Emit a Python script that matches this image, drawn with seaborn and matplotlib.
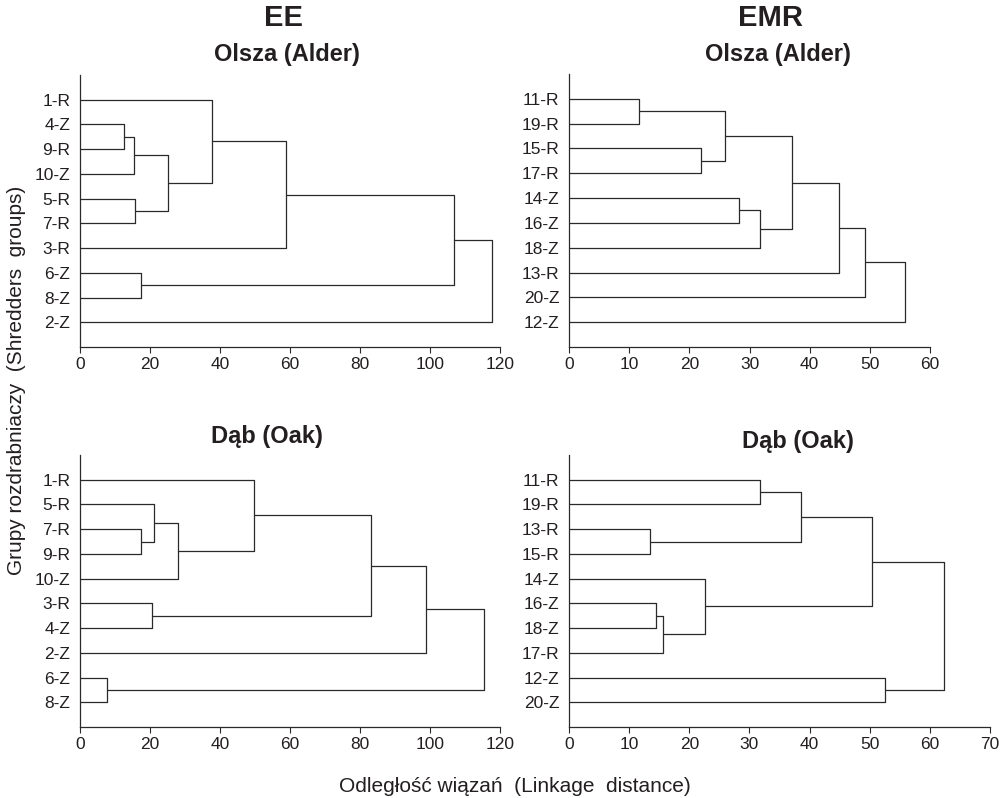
import matplotlib
matplotlib.use("Agg")
import matplotlib.pyplot as plt
from matplotlib import font_manager
import numpy as np
import pandas as pd
import seaborn as sns

# Leaf order and agglomeration steps (child a, child b, linkage distance).
# Indices below len(leaves) are leaves; index len(leaves)+k is the k-th merge.
ee_alder_leaves = ["1-R", "4-Z", "9-R", "10-Z", "5-R", "7-R", "3-R", "6-Z", "8-Z", "2-Z"]
ee_alder_merges = [
    (1, 2, 12.7), (10, 3, 15.5), (4, 5, 15.7), (11, 12, 25.2), (0, 13, 37.8),
    (14, 6, 58.8), (7, 8, 17.3), (15, 16, 106.8), (17, 9, 117.8),
]

emr_alder_leaves = ["11-R", "19-R", "15-R", "17-R", "14-Z", "16-Z", "18-Z", "13-R", "20-Z", "12-Z"]
emr_alder_merges = [
    (0, 1, 11.7), (2, 3, 21.9), (10, 11, 26.0), (4, 5, 28.3), (13, 6, 31.7),
    (12, 14, 37.1), (15, 7, 44.8), (16, 8, 49.2), (17, 9, 55.8),
]

ee_oak_leaves = ["1-R", "5-R", "7-R", "9-R", "10-Z", "3-R", "4-Z", "2-Z", "6-Z", "8-Z"]
ee_oak_merges = [
    (2, 3, 17.3), (1, 10, 21.2), (11, 4, 28.1), (0, 12, 49.6), (5, 6, 20.7),
    (13, 14, 83.1), (15, 7, 98.8), (8, 9, 7.8), (16, 17, 115.5),
]

emr_oak_leaves = ["11-R", "19-R", "13-R", "15-R", "14-Z", "16-Z", "18-Z", "17-R", "12-Z", "20-Z"]
emr_oak_merges = [
    (0, 1, 31.8), (2, 3, 13.5), (10, 11, 38.6), (5, 6, 14.5), (13, 7, 15.6),
    (4, 14, 22.6), (12, 15, 50.3), (8, 9, 52.6), (16, 17, 62.4),
]

ee_ticks = [0, 20, 40, 60, 80, 100, 120]
emr_alder_ticks = [0, 10, 20, 30, 40, 50, 60]
emr_oak_ticks = [0, 10, 20, 30, 40, 50, 60, 70]

column_titles = ["EE", "EMR"]
wood_titles = ["Olsza (Alder)", "Dąb (Oak)"]
y_title = "Grupy rozdrabniaczy  (Shredders  groups)"
x_title = "Odległość wiązań  (Linkage  distance)"


def link_segments(leaves, merges):
    """Bracket polylines for each merge, laid out like a classic dendrogram."""
    n = len(leaves)
    pos = {i: float(i) for i in range(n)}
    height = {i: 0.0 for i in range(n)}
    rows = []
    for k, (a, b, h) in enumerate(merges):
        pts = [(height[a], pos[a]), (h, pos[a]), (h, pos[b]), (height[b], pos[b])]
        for d, p in pts:
            rows.append({"distance": d, "position": p, "link": k})
        pos[n + k] = (pos[a] + pos[b]) / 2.0
        height[n + k] = h
    return pd.DataFrame(rows)


sns.set_theme(style="ticks")
plt.rcParams["font.family"] = ["Liberation Sans", "DejaVu Sans"]
ink = "#231f20"
line_col = "#2a2a2a"

# Headings: pick the regular-width bold face, never a narrow/condensed cut
bold_fp = None
for entry in font_manager.fontManager.ttflist:
    fname_low = entry.fname.lower()
    if (entry.name == "Liberation Sans" and entry.weight in (700, "bold")
            and entry.style == "normal" and "narrow" not in fname_low
            and "condensed" not in fname_low):
        bold_fp = font_manager.FontProperties(fname=entry.fname)
        break
if bold_fp is None:
    bold_fp = font_manager.FontProperties(family=["Liberation Sans", "DejaVu Sans"], weight="bold")

W, H = 1008, 798
fig = plt.figure(figsize=(W / 100, H / 100), dpi=100)


def add_axes_px(left, right, top, bottom):
    return fig.add_axes([left / W, 1 - bottom / H, (right - left) / W, (bottom - top) / H])


panels = [
    (ee_alder_leaves, ee_alder_merges, ee_ticks, (80, 500, 75, 347)),
    (emr_alder_leaves, emr_alder_merges, emr_alder_ticks, (569, 930, 74, 347)),
    (ee_oak_leaves, ee_oak_merges, ee_ticks, (80, 500, 455, 727)),
    (emr_oak_leaves, emr_oak_merges, emr_oak_ticks, (569, 990, 455, 727)),
]

for leaves, merges, ticks, box in panels:
    ax = add_axes_px(*box)
    df = link_segments(leaves, merges)
    sns.lineplot(data=df, x="distance", y="position", units="link", estimator=None,
                 sort=False, color=line_col, linewidth=0.9, ax=ax, legend=False)
    ax.set_xlim(ticks[0], ticks[-1])
    ax.set_ylim(len(leaves), -1)
    ax.set_xticks(ticks)
    ax.set_xticklabels([str(t) for t in ticks])
    ax.set_yticks(range(len(leaves)))
    ax.set_yticklabels(leaves)
    ax.set(xlabel="", ylabel="")
    ax.tick_params(axis="x", direction="out", length=4, width=0.8, color=line_col,
                   pad=3.5, labelsize=12.5, labelcolor=ink)
    ax.tick_params(axis="y", length=0, pad=7, labelsize=12.5, labelcolor=ink)
    sns.despine(ax=ax)
    for s in ("left", "bottom"):
        ax.spines[s].set_color(line_col)
        ax.spines[s].set_linewidth(0.9)
    ax.set_facecolor("white")

# Column and wood-type headings
heading = dict(ha="center", va="center", color=ink, fontproperties=bold_fp)
fig.text(283 / W, 1 - 18 / H, column_titles[0], size=21, **heading)
fig.text(770 / W, 1 - 18 / H, column_titles[1], size=21, **heading)
fig.text(287 / W, 1 - 55 / H, wood_titles[0], size=17, **heading)
fig.text(778 / W, 1 - 55 / H, wood_titles[0], size=17, **heading)
fig.text(267 / W, 1 - 436 / H, wood_titles[1], size=17, **heading)
fig.text(798 / W, 1 - 441 / H, wood_titles[1], size=17, **heading)

fig.text(17 / W, 1 - 380 / H, y_title, rotation=90, ha="center", va="center",
         fontsize=15, color=ink)
fig.text(515 / W, 1 - 792 / H, x_title, ha="center", va="baseline",
         fontsize=15, color=ink)

fig.savefig("out.png", dpi=100, facecolor="white")
